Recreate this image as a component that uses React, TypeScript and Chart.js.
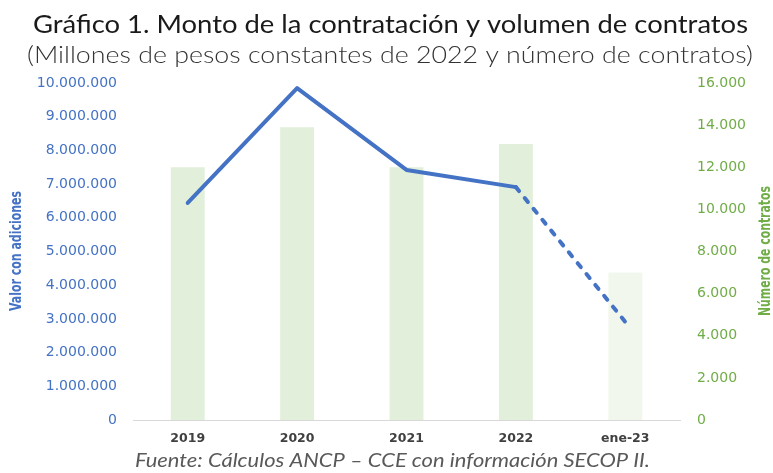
import React, { useEffect, useRef } from "react";
import { Chart, registerables } from "chart.js";

Chart.register(...registerables);

const categories = ["2019", "2020", "2021", "2022", "ene-23"];
const valorConAdiciones = [6440000, 9850000, 7420000, 6910000, 2910000];
const numeroContratos = [12000, 13900, 12000, 13100, 7000];
const barColors = ["#E2EFDA", "#E2EFDA", "#E2EFDA", "#E2EFDA", "#F1F7ED"];

const titleText = "Gráfico 1. Monto de la contratación y volumen de contratos";
const subtitleText = "(Millones de pesos constantes de 2022 y número de contratos)";
const footText = "Fuente: Cálculos ANCP – CCE con información SECOP II.";
const leftAxisTitle = "Valor con adiciones";
const rightAxisTitle = "Número de contratos";

const fmt = (v: number) => String(v).replace(/\B(?=(\d{3})+(?!\d))/g, ".");

function drawFitted(
  ctx: CanvasRenderingContext2D,
  text: string,
  font: string,
  color: string,
  cx: number,
  cy: number,
  width: number,
  rotation: number,
  baseline: CanvasTextBaseline
) {
  ctx.save();
  ctx.font = font;
  ctx.fillStyle = color;
  ctx.textAlign = "center";
  ctx.textBaseline = baseline;
  const w = ctx.measureText(text).width;
  const sx = w > 0 ? width / w : 1;
  ctx.translate(cx, cy);
  ctx.rotate(rotation);
  ctx.scale(sx, 1);
  ctx.fillText(text, 0, 0);
  ctx.restore();
}

const textPlugin = {
  id: "textPlugin",
  afterDraw(chart: any) {
    const ctx = chart.ctx as CanvasRenderingContext2D;
    drawFitted(ctx, titleText, "400 25px Lato, 'Open Sans', sans-serif", "#1a1a1a", 390.5, 33, 715, 0, "alphabetic");
    drawFitted(ctx, subtitleText, "300 23px Lato, 'Open Sans', sans-serif", "#333333", 390, 63, 726, 0, "alphabetic");
    drawFitted(ctx, footText, "italic 400 19px Lato, 'Open Sans', sans-serif", "#595959", 392.5, 467, 515, 0, "alphabetic");
    drawFitted(ctx, leftAxisTitle, "bold 16px 'Liberation Sans Narrow', 'DejaVu Sans Condensed', sans-serif", "#4472C4", 17, 251, 120, -Math.PI / 2, "middle");
    drawFitted(ctx, rightAxisTitle, "bold 16px 'Liberation Sans Narrow', 'DejaVu Sans Condensed', sans-serif", "#70AD47", 766, 251, 130, -Math.PI / 2, "middle");
  },
};

export default function App() {
  const ref = useRef<HTMLCanvasElement | null>(null);
  useEffect(() => {
    document.body.style.margin = "0";
    if (!ref.current) return;
    const chart = new Chart(ref.current, {
      type: "bar",
      data: {
        labels: categories,
        datasets: [
          {
            type: "line",
            label: "Valor con adiciones",
            data: valorConAdiciones,
            yAxisID: "y",
            borderColor: "#4472C4",
            backgroundColor: "#4472C4",
            borderWidth: 4,
            pointRadius: 0,
            borderCapStyle: "round",
            borderJoinStyle: "round",
            tension: 0,
            order: 0,
            segment: {
              borderDash: (c: any) => (c.p1DataIndex === 4 ? [5, 9] : undefined),
            },
          } as any,
          {
            type: "bar",
            label: "Número de contratos",
            data: numeroContratos,
            yAxisID: "y1",
            backgroundColor: barColors,
            borderWidth: 0,
            categoryPercentage: 1,
            barPercentage: 0.31,
            order: 1,
          } as any,
        ],
      },
      options: {
        animation: false,
        responsive: true,
        maintainAspectRatio: false,
        layout: { padding: { top: 83, left: 0, right: 0, bottom: 0 } },
        plugins: {
          legend: { display: false },
          tooltip: { enabled: false },
          title: { display: false },
        },
        scales: {
          x: {
            grid: { display: false, drawTicks: false },
            border: { display: true, color: "#D9D9D9", width: 1 },
            ticks: {
              color: "#404040",
              font: { family: "'DejaVu Sans', Verdana, sans-serif", size: 12.5, weight: "bold" },
              padding: 11,
            },
            afterFit: (s: any) => {
              s.height = 53;
            },
          },
          y: {
            position: "left",
            min: 0,
            max: 10000000,
            grid: { display: false, drawTicks: false },
            border: { display: false },
            ticks: {
              stepSize: 1000000,
              color: "#4472C4",
              font: { family: "'DejaVu Sans', Verdana, sans-serif", size: 14 },
              padding: 16,
              callback: (v: any) => fmt(Number(v)),
            },
            afterFit: (s: any) => {
              s.width = 133;
            },
          },
          y1: {
            position: "right",
            min: 0,
            max: 16000,
            grid: { display: false, drawTicks: false },
            border: { display: false },
            ticks: {
              stepSize: 2000,
              color: "#70AD47",
              font: { family: "'DejaVu Sans', Verdana, sans-serif", size: 14 },
              padding: 17,
              callback: (v: any) => fmt(Number(v)),
            },
            afterFit: (s: any) => {
              s.width = 93;
            },
          },
        },
      } as any,
      plugins: [textPlugin],
    });
    return () => chart.destroy();
  }, []);
  return (
    <div style={{ position: "relative", width: 773, height: 473, background: "#fff" }}>
      <canvas ref={ref} />
    </div>
  );
}
